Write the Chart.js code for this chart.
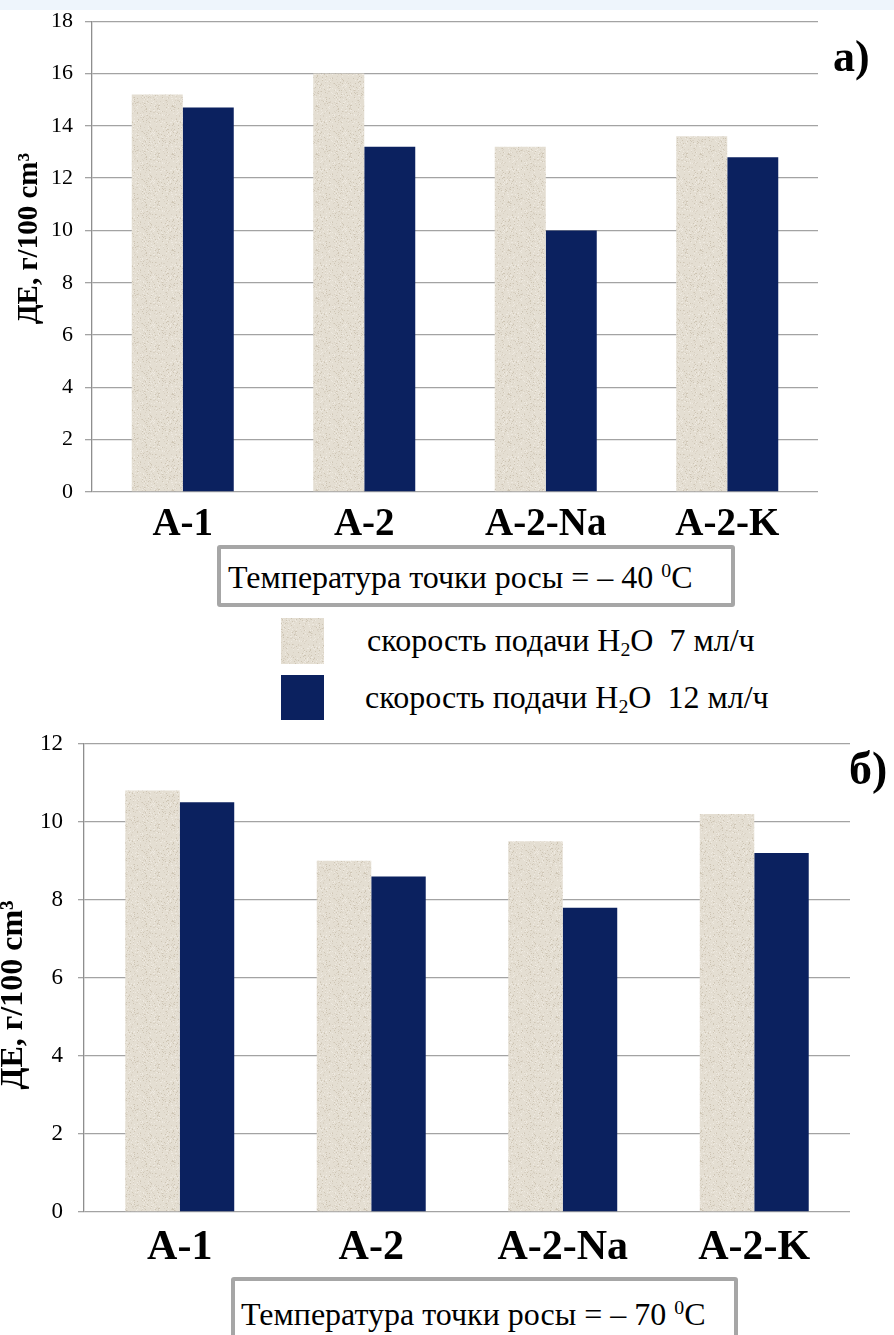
<!DOCTYPE html>
<html>
<head>
<meta charset="utf-8">
<script src="https://cdn.jsdelivr.net/npm/chart.js@4.4.1/dist/chart.umd.min.js"></script>
<style>
  html, body { margin: 0; padding: 0; background: #fff; }
  body {
    width: 894px; height: 1335px; position: relative; overflow: hidden;
    font-family: "Liberation Serif", "Times New Roman", serif; color: #000;
  }
  .band { position: absolute; left: 0; top: 0; width: 894px; height: 10px; background: #eef5fc; z-index: 2; }
  .panel { position: absolute; left: 0; }
  #wrapTop { top: -4px; }
  #wrapBottom { top: 715px; }
  .tag { position: absolute; font-weight: bold; line-height: 1; white-space: nowrap; }
  .note {
    position: absolute; box-sizing: border-box; border: 4px solid #a6a6a6; border-radius: 3px;
    background: #fff; font-size: 32px; line-height: 1; white-space: nowrap;
  }
  .note span { position: absolute; }
  .note sup { font-size: 62%; line-height: 0; vertical-align: 0.55em; }
  .swatch { position: absolute; width: 43px; height: 46px; }
  .keytext { position: absolute; font-size: 32px; line-height: 1; white-space: nowrap; }
  .keytext sub { font-size: 62%; line-height: 0; vertical-align: -0.25em; }
</style>
</head>
<body>
<div class="band"></div>

<div class="panel" id="wrapTop"><canvas id="chartTop" width="894" height="549"></canvas></div>
<div class="tag" style="left:833px; top:35px; font-size:44px;">а)</div>
<div class="note" style="left:217px; top:545px; width:518px; height:62px;"><span style="left:7px; top:12px;">Температура точки росы = – 40&nbsp;<sup>0</sup>C</span></div>
<div class="swatch" id="sw0" style="left:281px; top:618px;"></div>
<div class="swatch" id="sw1" style="left:281px; top:675px; height:45px;"></div>
<div class="keytext" id="kt0" style="left:367px; top:624px;"></div>
<div class="keytext" id="kt1" style="left:365px; top:681px;"></div>

<div class="panel" id="wrapBottom"><canvas id="chartBottom" width="894" height="560"></canvas></div>
<div class="tag" style="left:849px; top:746px; font-size:46px;">б)</div>
<div class="note" style="left:231px; top:1277px; width:507px; height:74px;"><span style="left:6px; top:17px;">Температура точки росы = – 70&nbsp;<sup>0</sup>C</span></div>

<script>
// Sorbents and y-axis ticks
const categories = ['A-1', 'A-2', 'A-2-Na', 'A-2-K'];
const yTicksDew40 = [0, 2, 4, 6, 8, 10, 12, 14, 16, 18];
const yTicksDew70 = [0, 2, 4, 6, 8, 10, 12];

// Dynamic capacity, g/100 cm3, dew point -40 °C
const feed7Dew40  = [15.2, 16.0, 13.2, 13.6];
const feed12Dew40 = [14.7, 13.2, 10.0, 12.8];

// Dynamic capacity, g/100 cm3, dew point -70 °C
const feed7Dew70  = [10.8, 9.0, 9.5, 10.2];
const feed12Dew70 = [10.5, 8.6, 7.8, 9.2];

const seriesNames = ['скорость подачи H<sub>2</sub>O&nbsp;&nbsp;7 мл/ч', 'скорость подачи H<sub>2</sub>O&nbsp;&nbsp;12 мл/ч'];
const axisTitle = 'ДЕ, г/100 cm³';

const SERIF = '"Liberation Serif", "Times New Roman", serif';
const NAVY = '#0b215f';

// Sandy speckled fill for the lighter bars
function sandTile() {
  const c = document.createElement('canvas');
  c.width = 48; c.height = 48;
  const g = c.getContext('2d');
  g.fillStyle = '#e4ded2';
  g.fillRect(0, 0, 48, 48);
  for (let i = 0; i < 48 * 48; i++) {
    const h = Math.abs(Math.sin(i * 12.9898 + 78.233) * 43758.5453) % 1;
    if (h < 0.2) {
      g.fillStyle = h < 0.05 ? '#cec5b4' : (h < 0.12 ? '#eee9e0' : '#d9d1c3');
      g.fillRect(i % 48, (i / 48) | 0, 1, 1);
    }
  }
  return c;
}
const tile = sandTile();

// Rotated y-axis caption, placed relative to the plot area
const yCaption = {
  id: 'yCaption',
  afterDraw(chart, args, opts) {
    const { ctx, chartArea } = chart;
    ctx.save();
    ctx.translate(opts.x, (chartArea.top + chartArea.bottom) / 2 + opts.dy);
    ctx.rotate(-Math.PI / 2);
    ctx.textAlign = 'center';
    ctx.textBaseline = 'middle';
    ctx.fillStyle = '#000';
    ctx.font = 'bold ' + opts.size + 'px ' + SERIF;
    ctx.fillText(opts.text, 0, 0);
    ctx.restore();
  }
};

function makeChart(id, ticks, light, dark, geo) {
  const canvas = document.getElementById(id);
  const ctx = canvas.getContext('2d');
  const sand = ctx.createPattern(tile, 'repeat');
  return new Chart(ctx, {
    type: 'bar',
    data: {
      labels: categories,
      datasets: [
        { data: light, backgroundColor: sand, borderWidth: 0 },
        { data: dark, backgroundColor: NAVY, borderWidth: 0 }
      ]
    },
    plugins: [yCaption],
    options: {
      responsive: false,
      animation: false,
      events: [],
      datasets: { bar: { categoryPercentage: geo.cat, barPercentage: 1 } },
      layout: { padding: { left: 0, right: geo.right, top: 0, bottom: 0 } },
      plugins: {
        legend: { display: false },
        tooltip: { enabled: false },
        yCaption: { text: axisTitle, x: geo.capX, dy: geo.capDy, size: geo.capSize }
      },
      scales: {
        x: {
          grid: { display: false },
          border: { display: false },
          ticks: { color: '#000', padding: geo.xPad, font: { family: SERIF, size: geo.xFont, weight: 'bold' } },
          afterFit(s) { s.height = geo.xH; }
        },
        y: {
          min: ticks[0],
          max: ticks[ticks.length - 1],
          ticks: { stepSize: ticks[1] - ticks[0], padding: geo.yPad, color: '#000', font: { family: SERIF, size: geo.yFont } },
          grid: { color: '#a3a3a3', lineWidth: 1.3, tickLength: geo.tick },
          border: { display: true, color: '#8e8e8e', width: 1.3 },
          afterFit(s) { s.width = geo.yW; }
        }
      }
    }
  });
}

const chartTop = makeChart('chartTop', yTicksDew40, feed7Dew40, feed12Dew40, {
  cat: 0.562, right: 76, xH: 53, xPad: 2, xFont: 39,
  yPad: 12, yFont: 22, tick: 7, yW: 92, capX: 30, capDy: -18, capSize: 29
});
const chartBottom = makeChart('chartBottom', yTicksDew70, feed7Dew70, feed12Dew70, {
  cat: 0.569, right: 44, xH: 63, xPad: 3, xFont: 42,
  yPad: 15, yFont: 23, tick: 6, yW: 84, capX: 14, capDy: 17, capSize: 32
});

// Legend keyed to the top chart's datasets
const ds = chartTop.data.datasets;
document.getElementById('sw0').style.background = 'url(' + tile.toDataURL() + ')';
document.getElementById('sw1').style.background = ds[1].backgroundColor;
document.getElementById('kt0').innerHTML = seriesNames[0];
document.getElementById('kt1').innerHTML = seriesNames[1];
</script>
</body>
</html>
